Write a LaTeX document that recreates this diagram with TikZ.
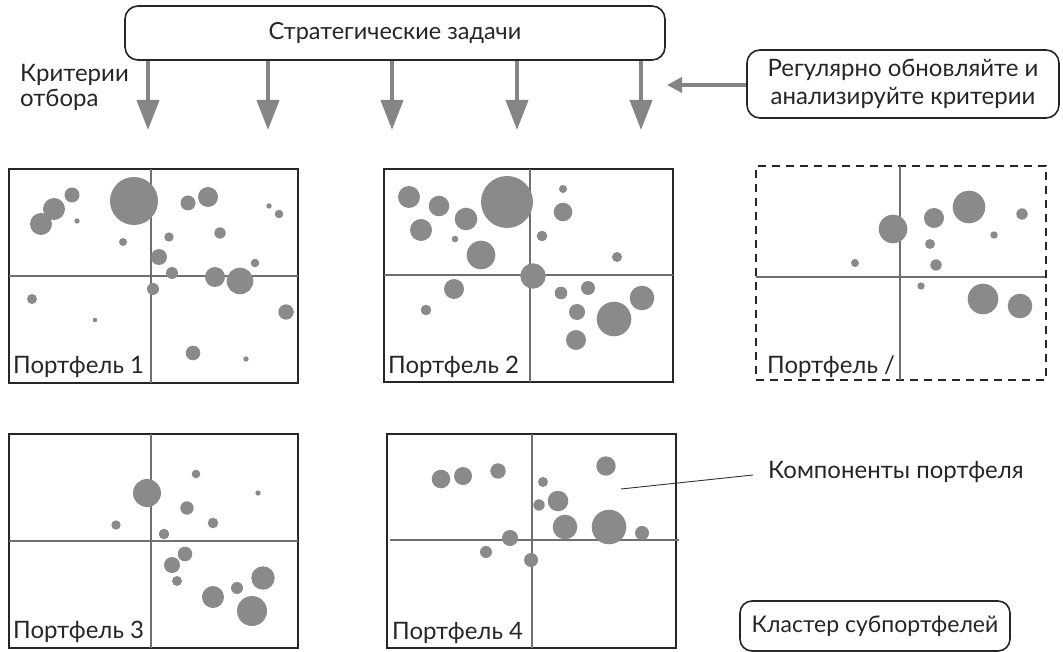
\documentclass[tikz,border=0pt]{standalone}
\usepackage{fontspec}
\setmainfont{Lato}
\usetikzlibrary{arrows.meta}

\definecolor{bubblegray}{HTML}{8A8A8A}
\definecolor{arrowgray}{HTML}{858585}
\definecolor{axisgray}{HTML}{707070}
\definecolor{framecol}{HTML}{262626}

\tikzset{
  txt/.style={font=\fontsize{24}{28}\selectfont, text=black!85, inner sep=0pt},
  roundbox/.style={draw=framecol, line width=1.6pt, rounded corners=13pt, fill=white},
  frame/.style={draw=framecol, line width=1.8pt},
  dashframe/.style={draw=framecol, line width=1.8pt, dash pattern=on 8pt off 6pt},
  axis/.style={draw=axisgray, line width=1.2pt},
  bubble/.style={fill=bubblegray},
  downarrow/.style={draw=arrowgray, line width=4pt, -{Triangle[width=22pt,length=30pt]}},
  sidearrow/.style={draw=arrowgray, line width=3.5pt, -{Triangle[width=15pt,length=15pt]}},
  leader/.style={draw=black!80, line width=0.9pt}
}

\begin{document}
\begin{tikzpicture}[x=1pt,y=-1pt]
\useasboundingbox (0,0) rectangle (1063,652);

% --- strategic goals and selection criteria ---
\node[roundbox, txt, font=\fontsize{23.5}{28}\selectfont, minimum width=540pt, minimum height=54pt] (goals) at (395,33) {Стратегические задачи};
% base anchor of a two-line node sits on the last line
\node[txt, align=left, anchor=base west, font=\fontsize{24}{25}\selectfont] (crit) at (20,107) {Критерии\\отбора};

\foreach \i/\x in {1/148,2/268,3/392,4/517,5/641}{
  \coordinate (tip\i) at (\x,130);
  \draw[downarrow] (tip\i |- goals.south) -- (tip\i);
}

\node[roundbox, txt, align=center, minimum width=312pt, minimum height=68pt, font=\fontsize{24}{28}\selectfont] (review) at (903,84) {Регулярно обновляйте и\\анализируйте критерии};
\coordinate (revtip) at (667,85);
\draw[sidearrow] (review.west |- revtip) -- (revtip);

% --- portfolio 1 ---
\node[frame, minimum width=289pt, minimum height=214pt, inner sep=0pt] (p1) at (153.5,276) {};
\draw[axis] (151,169) -- (151,383);
\draw[axis] (9,276) -- (298,276);
\foreach \x/\y/\r in {134/201/24, 54/209/11, 41/224/11, 72/195/7.5, 77/221/2.7, 123/242/4,
  188/203/7.5, 208/197/10, 269/206/2.7, 279/214/4.3, 169/237/4.7, 220/233/5.7,
  159/257/8, 172/273/6, 215/277/10, 240/281/13.3, 255/263/4.3, 153/289/6,
  32/299/5, 95/320/2.3, 286/312/7.7, 193/353/7.3, 246/359/2.7}
  \fill[bubble] (\x,\y) circle[radius=\r pt];
\node[txt, anchor=base west] (l1) at (13,373) {Портфель 1};

% --- portfolio 2 ---
\node[frame, minimum width=289pt, minimum height=213pt, inner sep=0pt] (p2) at (528.5,275.5) {};
\draw[axis] (530,169) -- (530,382);
\draw[axis] (384,275) -- (673,275);
\foreach \x/\y/\r in {409/197/11, 439/206/10.3, 421/230/11, 466/219/11.3, 455/239/3.3,
  481/255/14.3, 507/202/26, 563/189/4, 563/212/9.3, 542/236/5.3, 617/257/5,
  533/276/12.7, 454/289/10, 426/310/5.3, 561/293/6.3, 588/288/7, 642/298/12.3,
  577/312/8, 614/319/17.3, 576/340/10}
  \fill[bubble] (\x,\y) circle[radius=\r pt];
\node[txt, anchor=base west] (l2) at (388,373) {Портфель 2};

% --- prospective portfolio (dashed) ---
\node[dashframe, minimum width=290pt, minimum height=214pt, inner sep=0pt] (pn) at (901,273) {};
\draw[axis] (900,166) -- (900,380);
\draw[axis] (756,277) -- (1045,277);
\foreach \x/\y/\r in {893/229/14.3, 934/218/10, 969/207/16.3, 1022/214/5.7, 994/235/3.7,
  930/244/5, 936/265/5.7, 855/263/4, 921/286/3.7, 983/299/15.3, 1020/306/12.3}
  \fill[bubble] (\x,\y) circle[radius=\r pt];
\node[txt, anchor=base west] (ln) at (767,373) {Портфель /};

% --- portfolio 3 ---
\node[frame, minimum width=289pt, minimum height=214pt, inner sep=0pt] (p3) at (153.5,541) {};
\draw[axis] (151,434) -- (151,648);
\draw[axis] (9,541) -- (298,541);
\foreach \x/\y/\r in {147/493/14, 196/474/4.3, 258/493/2.7, 187/508/6.7, 213/523/5.3,
  116/525/4.7, 164/534/5.3, 185/554/7.3, 172/565/8, 177/581/5, 213/597/11,
  237/588/6, 263/578/11.7, 252/611/15}
  \fill[bubble] (\x,\y) circle[radius=\r pt];
\node[txt, anchor=base west] (l3) at (13,638) {Портфель 3};

% --- portfolio 4 ---
\node[frame, minimum width=289pt, minimum height=214pt, inner sep=0pt] (p4) at (531.5,541) {};
\draw[axis] (532,434) -- (532,648);
\draw[axis] (390,540) -- (679,540);
\foreach \x/\y/\r in {441/479/9.3, 463/476/9, 498/471/7.7, 606/466/9.7, 543/482/5,
  558/501/10.3, 539/505/5.7, 565/527/12.3, 609/527/17.3, 642/533/7, 510/538/8,
  486/552/6, 531/560/7}
  \fill[bubble] (\x,\y) circle[radius=\r pt];
\node[txt, anchor=base west] (l4) at (392,639) {Портфель 4};

% --- legend ---
\node[txt, anchor=west] (comp) at (768,472) {Компоненты портфеля};
\coordinate (compend) at (621,489);
\draw[leader] (compend) -- (753,475);

\node[roundbox, txt, font=\fontsize{23}{28}\selectfont, minimum width=270pt, minimum height=50pt, rounded corners=12pt] (cluster) at (875,626) {Кластер субпортфелей};
\end{tikzpicture}
\end{document}
